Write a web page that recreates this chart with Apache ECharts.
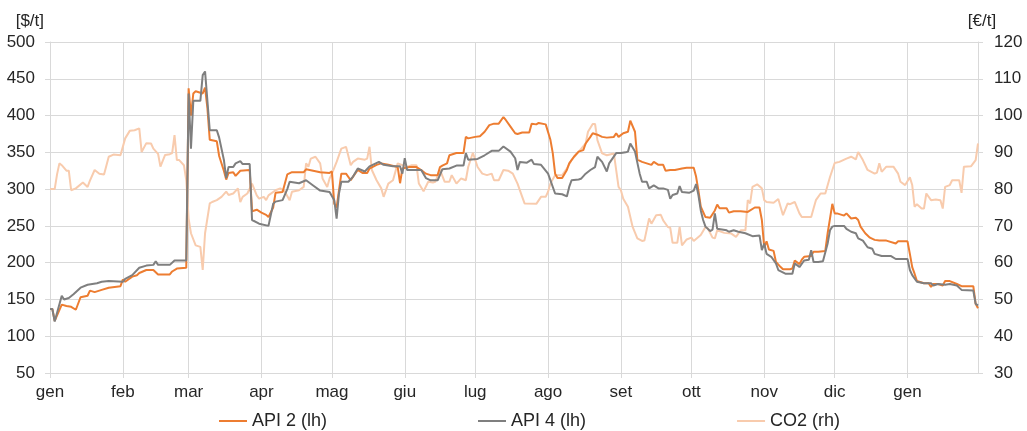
<!DOCTYPE html>
<html>
<head>
<meta charset="utf-8">
<title>API 2, API 4, CO2</title>
<script src="https://cdn.jsdelivr.net/npm/echarts@6/dist/echarts.min.js"></script>
<style>
  html, body { margin: 0; padding: 0; background: #fff; }
  #chart { width: 1027px; height: 431px; }
</style>
</head>
<body>
<div id="chart"></div>
<script>
// Coal (API 2, API 4) and CO2 price lines, Jan 2022 - Jan 2023.

const monthLabels = ["gen", "feb", "mar", "apr", "mag", "giu", "lug", "ago", "set", "ott", "nov", "dic"];

const api2Dates = [
  "2022-01-01", "2022-01-02", "2022-01-03", "2022-01-06", "2022-01-08", "2022-01-10", "2022-01-12", "2022-01-14",
  "2022-01-17", "2022-01-18", "2022-01-20", "2022-01-23", "2022-01-26", "2022-01-31", "2022-02-01", "2022-02-02",
  "2022-02-05", "2022-02-07", "2022-02-08", "2022-02-11", "2022-02-14", "2022-02-16", "2022-02-21", "2022-02-22",
  "2022-02-24", "2022-02-28", "2022-03-01", "2022-03-02", "2022-03-03", "2022-03-04", "2022-03-07", "2022-03-08",
  "2022-03-09", "2022-03-10", "2022-03-13", "2022-03-14", "2022-03-16", "2022-03-17", "2022-03-18", "2022-03-20",
  "2022-03-21", "2022-03-23", "2022-03-27", "2022-03-28", "2022-03-30", "2022-04-01", "2022-04-03", "2022-04-04",
  "2022-04-06", "2022-04-07", "2022-04-10", "2022-04-12", "2022-04-14", "2022-04-19", "2022-04-20", "2022-04-26",
  "2022-04-30", "2022-05-01", "2022-05-02", "2022-05-03", "2022-05-05", "2022-05-07", "2022-05-09", "2022-05-10",
  "2022-05-12", "2022-05-14", "2022-05-16", "2022-05-17", "2022-05-20", "2022-05-22", "2022-05-25", "2022-05-29",
  "2022-05-30", "2022-05-31", "2022-06-03", "2022-06-06", "2022-06-08", "2022-06-10", "2022-06-12", "2022-06-15",
  "2022-06-16", "2022-06-17", "2022-06-19", "2022-06-20", "2022-06-23", "2022-06-26", "2022-06-27", "2022-06-28",
  "2022-07-01", "2022-07-03", "2022-07-05", "2022-07-07", "2022-07-09", "2022-07-11", "2022-07-13", "2022-07-14",
  "2022-07-16", "2022-07-18", "2022-07-19", "2022-07-21", "2022-07-24", "2022-07-25", "2022-07-27", "2022-07-28",
  "2022-07-31", "2022-08-02", "2022-08-03", "2022-08-04", "2022-08-05", "2022-08-07", "2022-08-09", "2022-08-10",
  "2022-08-12", "2022-08-14", "2022-08-16", "2022-08-17", "2022-08-19", "2022-08-20", "2022-08-22", "2022-08-24",
  "2022-08-26", "2022-08-29", "2022-08-30", "2022-08-31", "2022-09-02", "2022-09-04", "2022-09-05", "2022-09-07",
  "2022-09-08", "2022-09-10", "2022-09-12", "2022-09-14", "2022-09-15", "2022-09-17", "2022-09-19", "2022-09-20",
  "2022-09-22", "2022-09-24", "2022-09-27", "2022-09-29", "2022-10-02", "2022-10-03", "2022-10-04", "2022-10-05",
  "2022-10-07", "2022-10-09", "2022-10-11", "2022-10-12", "2022-10-13", "2022-10-16", "2022-10-17", "2022-10-19",
  "2022-10-22", "2022-10-25", "2022-10-28", "2022-10-30", "2022-10-31", "2022-11-01", "2022-11-02", "2022-11-03",
  "2022-11-05", "2022-11-06", "2022-11-08", "2022-11-09", "2022-11-12", "2022-11-13", "2022-11-14", "2022-11-16",
  "2022-11-17", "2022-11-18", "2022-11-21", "2022-11-22", "2022-11-24", "2022-11-27", "2022-11-28", "2022-11-29",
  "2022-11-30", "2022-12-01", "2022-12-02", "2022-12-05", "2022-12-06", "2022-12-08", "2022-12-10", "2022-12-11",
  "2022-12-12", "2022-12-14", "2022-12-16", "2022-12-18", "2022-12-20", "2022-12-23", "2022-12-27", "2022-12-28",
  "2023-01-01", "2023-01-02", "2023-01-03", "2023-01-04", "2023-01-05", "2023-01-08", "2023-01-10", "2023-01-11",
  "2023-01-12", "2023-01-14", "2023-01-16", "2023-01-17", "2023-01-19", "2023-01-22", "2023-01-24", "2023-01-29",
  "2023-01-30", "2023-01-31",
];
const api2Values = [
  137, 137, 121, 143, 141, 140, 136, 153,
  155, 162, 160, 163, 166, 168, 177, 174,
  181, 183, 186, 190, 190, 184, 184, 188,
  192, 193, 437, 400, 430, 433, 430, 438,
  410, 367, 365, 345, 325, 313, 322, 323,
  318, 325, 326, 270, 272, 268, 265, 262,
  275, 295, 296, 320, 323, 323, 327, 323,
  322, 324, 280, 275, 321, 321, 312, 317,
  326, 322, 322, 328, 333, 335, 333, 330,
  308, 328, 330, 330, 326, 321, 319, 319,
  330, 332, 335, 346, 349, 349, 371, 369,
  371, 372, 378, 387, 389, 389, 398, 394,
  385, 376, 375, 377, 377, 389, 388, 390,
  388, 367, 349, 321, 315, 315, 326, 335,
  344, 351, 353, 362, 371, 376, 374, 371,
  370, 371, 376, 371, 376, 378, 393, 378,
  340, 337, 335, 333, 337, 333, 333, 325,
  326, 326, 328, 329, 329, 317, 298, 276,
  262, 261, 271, 279, 274, 274, 268, 270,
  270, 269, 275, 275, 258, 221, 229, 218,
  216, 201, 194, 191, 191, 192, 203, 198,
  204, 208, 209, 215, 215, 216, 240, 260,
  280, 267, 267, 264, 267, 260, 261, 258,
  249, 240, 234, 231, 230, 230, 226, 229,
  229, 212, 194, 185, 175, 172, 172, 167,
  171, 171, 169, 175, 175, 171, 168, 168,
  144, 138,
];

const api4Dates = [
  "2022-01-01", "2022-01-02", "2022-01-03", "2022-01-06", "2022-01-07", "2022-01-09", "2022-01-11", "2022-01-14",
  "2022-01-17", "2022-01-21", "2022-01-23", "2022-01-26", "2022-02-01", "2022-02-02", "2022-02-05", "2022-02-08",
  "2022-02-11", "2022-02-14", "2022-02-15", "2022-02-16", "2022-02-21", "2022-02-23", "2022-02-28", "2022-03-01",
  "2022-03-02", "2022-03-03", "2022-03-06", "2022-03-07", "2022-03-08", "2022-03-10", "2022-03-13", "2022-03-14",
  "2022-03-16", "2022-03-17", "2022-03-18", "2022-03-20", "2022-03-21", "2022-03-23", "2022-03-24", "2022-03-27",
  "2022-03-28", "2022-03-31", "2022-04-04", "2022-04-06", "2022-04-07", "2022-04-10", "2022-04-12", "2022-04-13",
  "2022-04-17", "2022-04-20", "2022-04-23", "2022-04-26", "2022-04-30", "2022-05-02", "2022-05-03", "2022-05-04",
  "2022-05-05", "2022-05-08", "2022-05-10", "2022-05-12", "2022-05-15", "2022-05-17", "2022-05-21", "2022-05-23",
  "2022-05-27", "2022-05-30", "2022-05-31", "2022-06-01", "2022-06-02", "2022-06-05", "2022-06-08", "2022-06-10",
  "2022-06-12", "2022-06-15", "2022-06-17", "2022-06-20", "2022-06-23", "2022-06-26", "2022-06-27", "2022-06-28",
  "2022-07-02", "2022-07-05", "2022-07-08", "2022-07-11", "2022-07-13", "2022-07-16", "2022-07-18", "2022-07-19",
  "2022-07-20", "2022-07-23", "2022-07-25", "2022-07-26", "2022-07-29", "2022-08-01", "2022-08-04", "2022-08-07",
  "2022-08-09", "2022-08-10", "2022-08-11", "2022-08-14", "2022-08-15", "2022-08-17", "2022-08-19", "2022-08-21",
  "2022-08-22", "2022-08-24", "2022-08-26", "2022-08-27", "2022-08-30", "2022-09-01", "2022-09-03", "2022-09-04",
  "2022-09-05", "2022-09-07", "2022-09-09", "2022-09-10", "2022-09-12", "2022-09-13", "2022-09-15", "2022-09-17",
  "2022-09-19", "2022-09-21", "2022-09-22", "2022-09-23", "2022-09-25", "2022-09-26", "2022-09-27", "2022-09-30",
  "2022-10-02", "2022-10-03", "2022-10-04", "2022-10-05", "2022-10-06", "2022-10-07", "2022-10-09", "2022-10-10",
  "2022-10-11", "2022-10-12", "2022-10-14", "2022-10-16", "2022-10-17", "2022-10-19", "2022-10-21", "2022-10-24",
  "2022-10-27", "2022-10-30", "2022-10-31", "2022-11-01", "2022-11-02", "2022-11-04", "2022-11-06", "2022-11-07",
  "2022-11-10", "2022-11-13", "2022-11-14", "2022-11-16", "2022-11-18", "2022-11-20", "2022-11-21", "2022-11-22",
  "2022-11-24", "2022-11-26", "2022-11-28", "2022-11-29", "2022-11-30", "2022-12-01", "2022-12-05", "2022-12-06",
  "2022-12-08", "2022-12-10", "2022-12-11", "2022-12-13", "2022-12-15", "2022-12-17", "2022-12-18", "2022-12-21",
  "2022-12-25", "2022-12-27", "2023-01-01", "2023-01-02", "2023-01-03", "2023-01-05", "2023-01-08", "2023-01-11",
  "2023-01-12", "2023-01-14", "2023-01-17", "2023-01-19", "2023-01-22", "2023-01-24", "2023-01-29", "2023-01-30",
  "2023-01-31",
];
const api4Values = [
  137, 137, 120, 155, 150, 152, 157, 166,
  170, 172, 174, 175, 174, 178, 183, 193,
  196, 197, 202, 197, 197, 203, 203, 430,
  355, 420, 420, 455, 460, 380, 380, 370,
  340, 315, 330, 330, 335, 338, 334, 334,
  258, 253, 250, 280, 283, 285, 300, 310,
  308, 312, 305, 298, 296, 285, 260, 294,
  310, 310, 317, 328, 324, 331, 337, 333,
  331, 331, 321, 342, 326, 326, 326, 315,
  312, 312, 327, 328, 332, 332, 349, 340,
  341, 346, 352, 352, 358, 351, 342, 326,
  337, 336, 340, 334, 333, 321, 294, 293,
  290, 303, 312, 313, 314, 321, 326, 330,
  344, 337, 324, 335, 349, 349, 350, 351,
  362, 351, 321, 310, 310, 301, 305, 301,
  301, 299, 287, 292, 294, 304, 296, 295,
  298, 307, 292, 271, 258, 249, 243, 245,
  267, 246, 245, 244, 242, 244, 242, 240,
  236, 237, 217, 226, 212, 208, 199, 190,
  185, 185, 199, 194, 203, 204, 217, 201,
  201, 202, 226, 244, 249, 250, 250, 246,
  242, 240, 233, 230, 221, 219, 212, 209,
  209, 205, 205, 190, 183, 174, 172, 172,
  169, 171, 170, 171, 169, 163, 162, 144,
  142,
];

const co2Dates = [
  "2022-01-01", "2022-01-03", "2022-01-04", "2022-01-05", "2022-01-06", "2022-01-08", "2022-01-09", "2022-01-10",
  "2022-01-12", "2022-01-15", "2022-01-17", "2022-01-18", "2022-01-20", "2022-01-22", "2022-01-24", "2022-01-26",
  "2022-01-28", "2022-01-31", "2022-02-02", "2022-02-04", "2022-02-06", "2022-02-08", "2022-02-09", "2022-02-11",
  "2022-02-13", "2022-02-14", "2022-02-16", "2022-02-17", "2022-02-19", "2022-02-21", "2022-02-22", "2022-02-23",
  "2022-02-24", "2022-02-25", "2022-02-27", "2022-02-28", "2022-03-01", "2022-03-02", "2022-03-04", "2022-03-06",
  "2022-03-07", "2022-03-08", "2022-03-10", "2022-03-11", "2022-03-13", "2022-03-15", "2022-03-17", "2022-03-18",
  "2022-03-20", "2022-03-22", "2022-03-23", "2022-03-24", "2022-03-26", "2022-03-28", "2022-03-30", "2022-03-31",
  "2022-04-02", "2022-04-03", "2022-04-04", "2022-04-07", "2022-04-09", "2022-04-11", "2022-04-13", "2022-04-14",
  "2022-04-17", "2022-04-19", "2022-04-20", "2022-04-21", "2022-04-22", "2022-04-24", "2022-04-26", "2022-04-27",
  "2022-04-29", "2022-04-30", "2022-05-01", "2022-05-03", "2022-05-05", "2022-05-07", "2022-05-09", "2022-05-10",
  "2022-05-12", "2022-05-15", "2022-05-16", "2022-05-17", "2022-05-18", "2022-05-20", "2022-05-22", "2022-05-23",
  "2022-05-25", "2022-05-27", "2022-05-29", "2022-06-02", "2022-06-04", "2022-06-06", "2022-06-07", "2022-06-09",
  "2022-06-11", "2022-06-13", "2022-06-14", "2022-06-16", "2022-06-18", "2022-06-20", "2022-06-21", "2022-06-23",
  "2022-06-25", "2022-06-27", "2022-06-28", "2022-06-30", "2022-07-02", "2022-07-04", "2022-07-06", "2022-07-08",
  "2022-07-09", "2022-07-11", "2022-07-13", "2022-07-15", "2022-07-17", "2022-07-19", "2022-07-21", "2022-07-22",
  "2022-07-27", "2022-07-29", "2022-07-31", "2022-08-01", "2022-08-02", "2022-08-04", "2022-08-07", "2022-08-09",
  "2022-08-11", "2022-08-14", "2022-08-17", "2022-08-18", "2022-08-20", "2022-08-21", "2022-08-22", "2022-08-24",
  "2022-08-26", "2022-08-29", "2022-08-31", "2022-09-01", "2022-09-02", "2022-09-04", "2022-09-06", "2022-09-08",
  "2022-09-10", "2022-09-11", "2022-09-13", "2022-09-14", "2022-09-16", "2022-09-18", "2022-09-19", "2022-09-21",
  "2022-09-22", "2022-09-23", "2022-09-25", "2022-09-26", "2022-09-27", "2022-09-29", "2022-10-01", "2022-10-02",
  "2022-10-05", "2022-10-07", "2022-10-08", "2022-10-10", "2022-10-11", "2022-10-12", "2022-10-15", "2022-10-18",
  "2022-10-20", "2022-10-22", "2022-10-24", "2022-10-25", "2022-10-26", "2022-10-27", "2022-10-29", "2022-10-31",
  "2022-11-01", "2022-11-02", "2022-11-05", "2022-11-07", "2022-11-09", "2022-11-11", "2022-11-12", "2022-11-14",
  "2022-11-16", "2022-11-17", "2022-11-21", "2022-11-22", "2022-11-23", "2022-11-25", "2022-11-27", "2022-11-29",
  "2022-12-01", "2022-12-03", "2022-12-06", "2022-12-08", "2022-12-10", "2022-12-11", "2022-12-13", "2022-12-15",
  "2022-12-18", "2022-12-19", "2022-12-20", "2022-12-21", "2022-12-23", "2022-12-26", "2022-12-28", "2022-12-29",
  "2022-12-31", "2023-01-02", "2023-01-03", "2023-01-04", "2023-01-05", "2023-01-07", "2023-01-08", "2023-01-09",
  "2023-01-11", "2023-01-13", "2023-01-15", "2023-01-16", "2023-01-17", "2023-01-19", "2023-01-20", "2023-01-23",
  "2023-01-24", "2023-01-25", "2023-01-28", "2023-01-30", "2023-01-31",
];
const co2Values = [
  80, 80, 84, 87, 86.5, 85, 85, 79.7,
  80.2, 81.8, 80.6, 82.3, 85.2, 84.2, 84, 88.8,
  89.4, 89.2, 93.8, 95.9, 96, 96.5, 90.1, 92.5,
  92.4, 91, 89.6, 86.1, 89.3, 89.5, 89.8, 94.7,
  87.9, 87.9, 86.5, 82.4, 72, 68, 64.7, 64.3,
  58, 68, 76.1, 76.5, 77, 77.9, 79.3, 78.4,
  78.8, 80.2, 76.5, 77.9, 78.8, 81.5, 78.3, 77.4,
  77.9, 77, 78.3, 79.7, 80.2, 79.3, 77, 79.3,
  79.7, 80.6, 87, 86.1, 88.3, 88.8, 87, 82.9,
  80.6, 82.9, 84.2, 87.4, 91, 91.5, 86.5, 87.4,
  88.3, 88, 88.3, 91.5, 85.2, 82.4, 80.2, 77.9,
  81.5, 82.4, 87, 86, 86.5, 86.5, 81.5, 79.4,
  82, 81.8, 82, 85.2, 82, 82, 83.8, 81.5,
  82.9, 82.4, 86, 89.9, 86, 84.2, 83.8, 84.2,
  82.4, 82.4, 85.2, 85, 84.2, 81.5, 77.9, 76.1,
  76, 77.9, 77.9, 79.3, 81.5, 83.8, 83.8, 85.6,
  87.9, 90.1, 92.4, 95.6, 97.7, 97.7, 93.3, 89.7,
  89.2, 89.7, 80.6, 79.7, 77.4, 75.2, 69.7, 66.6,
  65.9, 66, 72, 70.6, 72.9, 73, 71.5, 69.7,
  69.5, 65.4, 65.4, 69.7, 64.7, 66.3, 66.8, 65.9,
  67.5, 69.7, 69.3, 66.8, 66.6, 68.8, 68.1, 67.9,
  67, 68.8, 68.8, 77, 76.1, 80.6, 81.3, 80.2,
  77, 76.5, 76.3, 77.3, 72.9, 76.1, 75.9, 76.5,
  73.4, 72.4, 72.4, 74.7, 77, 78.8, 78.8, 83.3,
  87.1, 87.4, 88.3, 88.8, 88.1, 90.1, 87.9, 85.2,
  84.2, 84.5, 87, 84.7, 86.1, 86.1, 84.2, 82,
  81.1, 83.2, 81.1, 75.2, 75.9, 74.7, 74.7, 78.8,
  77, 77.2, 77, 74.7, 80.6, 81.1, 82.4, 82.4,
  79, 86.1, 86.2, 87.9, 92.4,
];

// Every calendar day on the x axis; only the first of each month gets a label.
const dayCategories = [];
for (let t = Date.UTC(2022, 0, 1); t <= Date.UTC(2023, 0, 31); t += 86400000) {
  dayCategories.push(new Date(t).toISOString().slice(0, 10));
}

function pairs(dates, values) {
  return dates.map((d, i) => [d, values[i]]);
}

function isMonthStart(index, value) {
  return value.slice(8) === "01";
}

const gridColor = "#d9d9d9";
const textColor = "#262626";
const fontFamily = "Liberation Sans, Arial, sans-serif";

const chart = echarts.init(document.getElementById("chart"), null, { renderer: "canvas" });

chart.setOption({
  animation: false,
  textStyle: { fontFamily },
  grid: { left: 50, right: 49, top: 42, bottom: 58 },
  legend: {
    data: ["API 2 (lh)", "API 4 (lh)", "CO2 (rh)"],
    icon: "rect",
    left: 214,
    top: 407,
    itemWidth: 28,
    itemHeight: 2,
    itemGap: 151,
    textStyle: { color: textColor, fontSize: 18, fontFamily },
  },
  xAxis: {
    type: "category",
    data: dayCategories,
    boundaryGap: false,
    axisLine: { show: true, lineStyle: { color: gridColor } },
    axisTick: { show: true, length: 5, interval: isMonthStart, lineStyle: { color: gridColor } },
    axisLabel: {
      interval: isMonthStart,
      formatter: (value) => monthLabels[Number(value.slice(5, 7)) - 1],
      color: textColor,
      fontSize: 17,
      margin: 11,
    },
    splitLine: { show: true, interval: isMonthStart, lineStyle: { color: gridColor } },
  },
  yAxis: [
    {
      type: "value",
      min: 50,
      max: 500,
      interval: 50,
      name: "[$/t]",
      nameLocation: "end",
      nameGap: 12,
      nameTextStyle: { color: textColor, fontSize: 17, align: "right", padding: [0, 6, 0, 0] },
      axisLine: { show: true, lineStyle: { color: gridColor } },
      axisTick: { show: true, length: 5, lineStyle: { color: gridColor } },
      axisLabel: { color: textColor, fontSize: 17, margin: 15 },
      splitLine: { show: true, lineStyle: { color: gridColor } },
    },
    {
      type: "value",
      min: 30,
      max: 120,
      interval: 10,
      position: "right",
      name: "[€/t]",
      nameLocation: "end",
      nameGap: 12,
      nameTextStyle: { color: textColor, fontSize: 17, align: "center", padding: [0, 0, 0, 8] },
      axisLine: { show: true, lineStyle: { color: gridColor } },
      axisTick: { show: true, length: 5, lineStyle: { color: gridColor } },
      axisLabel: { color: textColor, fontSize: 17, margin: 16 },
      splitLine: { show: false },
    },
  ],
  series: [
    {
      name: "API 2 (lh)",
      type: "line",
      yAxisIndex: 0,
      symbol: "none",
      z: 3,
      color: "#ed7d31",
      lineStyle: { width: 2, color: "#ed7d31" },
      data: pairs(api2Dates, api2Values),
    },
    {
      name: "API 4 (lh)",
      type: "line",
      yAxisIndex: 0,
      symbol: "none",
      z: 4,
      color: "#7f7f7f",
      lineStyle: { width: 2, color: "#7f7f7f" },
      data: pairs(api4Dates, api4Values),
    },
    {
      name: "CO2 (rh)",
      type: "line",
      yAxisIndex: 1,
      symbol: "none",
      z: 2,
      color: "#f8cbad",
      lineStyle: { width: 2, color: "#f8cbad" },
      data: pairs(co2Dates, co2Values),
    },
  ],
});
</script>
</body>
</html>
